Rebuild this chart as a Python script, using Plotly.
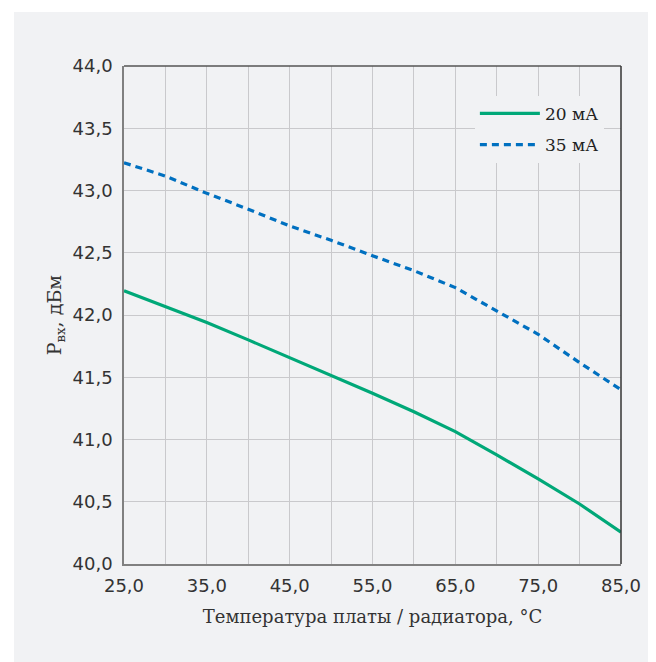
import plotly.graph_objects as go

temps = [25, 30, 35, 40, 45, 50, 55, 60, 65, 70, 75, 80, 85]
p_20ma = [42.195, 42.07, 41.94, 41.80, 41.657, 41.518, 41.371, 41.223, 41.063, 40.876, 40.683, 40.482, 40.255]
p_35ma = [43.223, 43.116, 42.977, 42.85, 42.715, 42.60, 42.476, 42.356, 42.22, 42.03, 41.845, 41.617, 41.40]
series_names = ["20 мА", "35 мА"]

x_title = "Температура платы / радиатора, °C"
y_title = "P<sub>вх</sub>, дБм"

PANEL = "#f1f2f4"
GRID = "#c9c9cc"
SERIF = "DejaVu Serif, serif"
SANS = "DejaVu Sans, sans-serif"

fig = go.Figure()
fig.add_trace(go.Scatter(x=temps, y=p_20ma, mode="lines", name=series_names[0],
                         legendgroup="a",
                         line=dict(color="#00a878", width=3.2)))
fig.add_trace(go.Scatter(x=temps, y=p_35ma, mode="lines", name=series_names[1],
                         legendgroup="b",
                         line=dict(color="#0070c0", width=3.2, dash="7px,5px")))

# gray panel behind everything
fig.add_shape(type="rect", xref="paper", yref="paper",
              x0=-0.2213, x1=1.12, y0=-0.23, y1=1.1084,
              fillcolor=PANEL, line=dict(width=0), layer="below")
# darker top and right frame
fig.add_shape(type="line", xref="paper", yref="paper", x0=0, x1=1, y0=1, y1=1,
              line=dict(color="#555555", width=1.5))
fig.add_shape(type="line", xref="paper", yref="paper", x0=1, x1=1, y0=0, y1=1,
              line=dict(color="#333333", width=1.5))

fig.update_layout(
    width=656, height=662,
    margin=dict(l=116, r=43, t=58, b=106),
    paper_bgcolor="white",
    plot_bgcolor=PANEL,
    separators=", ",
    showlegend=True,
    legend=dict(x=0.706, y=0.94, xanchor="left", yanchor="top",
                bgcolor=PANEL, borderwidth=0,
                font=dict(family=SERIF, size=17, color="#222222"),
                itemwidth=60, tracegroupgap=6),
    xaxis=dict(range=[25, 85], dtick=10, tick0=25, tickformat=".1f",
               showgrid=True, gridcolor=GRID, gridwidth=1,
               minor=dict(dtick=5, tick0=25, showgrid=True, gridcolor=GRID, gridwidth=1),
               showline=True, linecolor="#808080", linewidth=1.5, mirror=False,
               zeroline=False, ticks="", ticklabelstandoff=5,
               tickfont=dict(family=SANS, size=18, color="#333333"),
               title=dict(text=x_title, standoff=15,
                          font=dict(family=SERIF, size=18, color="#333333"))),
    yaxis=dict(range=[40, 44], dtick=0.5, tickformat=".1f",
               showgrid=True, gridcolor=GRID, gridwidth=1,
               showline=True, linecolor="#808080", linewidth=1.5, mirror=False,
               zeroline=False, ticks="", ticklabelstandoff=6,
               tickfont=dict(family=SANS, size=18, color="#333333"),
               title=dict(text=y_title, standoff=6,
                          font=dict(family=SERIF, size=19, color="#333333"))),
)

fig.write_html("out.html")
